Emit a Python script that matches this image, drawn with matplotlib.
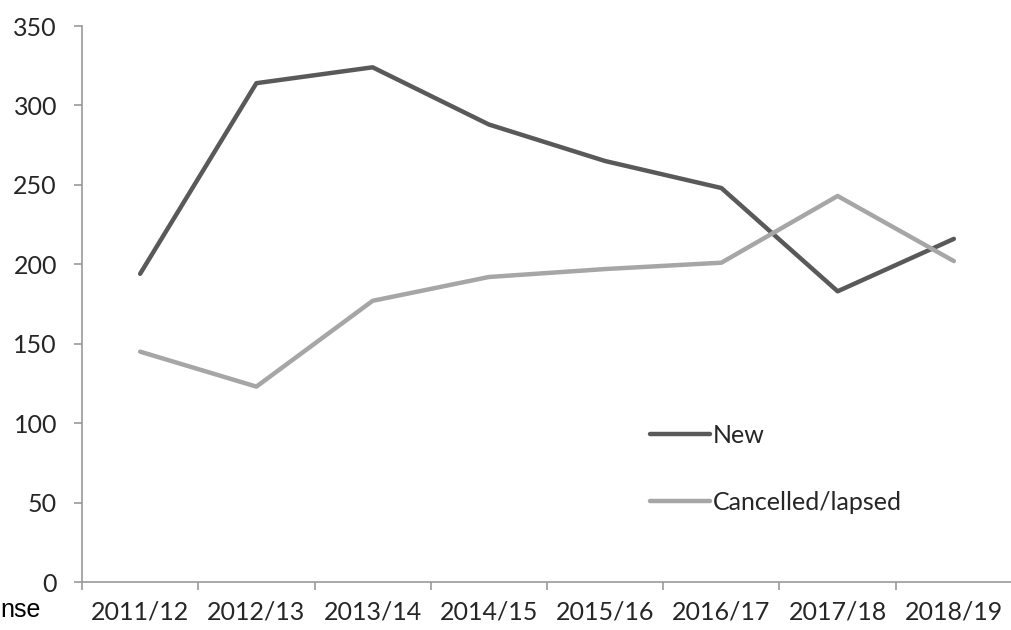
import numpy as np
import matplotlib.pyplot as plt

years = ["2011/12", "2012/13", "2013/14", "2014/15", "2015/16", "2016/17", "2017/18", "2018/19"]
new = [194, 314, 324, 288, 265, 248, 183, 216]
cancelled = [145, 123, 177, 192, 197, 201, 243, 202]

plt.rcParams['font.family'] = ['Lato', 'DejaVu Sans']

fig = plt.figure(figsize=(10.12, 6.3), dpi=100)
ax = fig.add_axes([82 / 1012, 1 - 582 / 630, 1 - 82 / 1012, (582 - 26) / 630])

x = np.arange(len(years))
ax.plot(x, new, color='#595959', lw=3.2, label="New", solid_capstyle='round')
ax.plot(x, cancelled, color='#a6a6a6', lw=3.2, label="Cancelled/lapsed", solid_capstyle='round')

ax.set_ylim(0, 350)
ax.set_yticks(np.arange(0, 351, 50))
ax.set_xlim(-0.5, len(years) - 0.5 - 3 / 116.7)

# category labels between boundary ticks
ax.set_xticks(np.arange(-0.5, len(years), 1.0))
ax.set_xticklabels([])
ax.set_xticks(x, minor=True)
ax.set_xticklabels(years, minor=True)
ax.tick_params(axis='x', which='minor', length=0, pad=13, labelsize=18, colors='#262626')
ax.tick_params(axis='x', which='major', length=6, width=1.2, color='#999999')
ax.tick_params(axis='y', length=6, width=1.2, color='#999999', labelsize=18, labelcolor='#262626', pad=12)

for s in ['top', 'right']:
    ax.spines[s].set_visible(False)
for s in ['left', 'bottom']:
    ax.spines[s].set_color('#999999')
    ax.spines[s].set_linewidth(1.2)

ax.legend(loc='upper left', bbox_to_anchor=(0.587, 0.325), frameon=False, fontsize=18,
          handlelength=2.4, handletextpad=0.1, labelspacing=1.75, labelcolor='#262626')

fig.text(0.0, 1 - 610 / 630, "nse", fontsize=18, family='Liberation Sans', va='center', ha='left')

fig.savefig("out.png", dpi=100)
